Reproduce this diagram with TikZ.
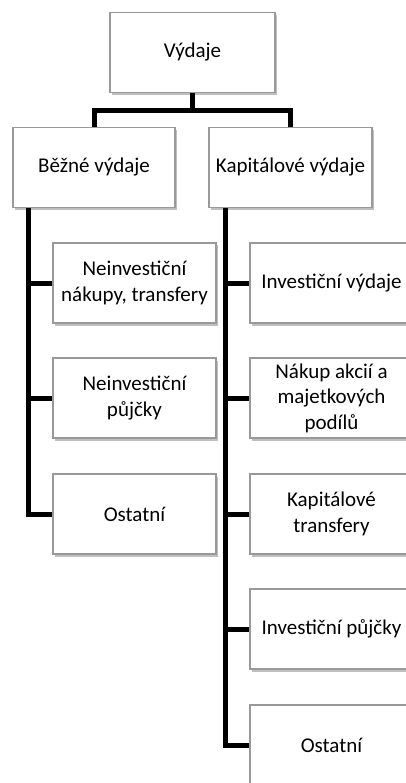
\documentclass[tikz,border=0pt]{standalone}
\usepackage{fontspec}
\setmainfont{Carlito}
\usetikzlibrary{shadows}

\begin{document}
\begin{tikzpicture}[box/.style = {rectangle, draw = black!40, line width = 1.1pt, fill = white, minimum width = 163pt, minimum height = 80pt, align = center, font = \fontsize{21}{25.5}\selectfont, drop shadow = {shadow xshift = 1.5pt, shadow yshift = -2.5pt, fill = black, opacity = 0.25}}, conn/.style = {line width = 5pt}]

\useasboundingbox (0,0) rectangle (406pt,-783pt);

\node (vydaje) [box, minimum width = 165pt, xshift = 192.5pt, yshift = -52.5pt] {Výdaje};
\node (bezne) [box, minimum width = 162pt, xshift = 94pt, yshift = -167.5pt] {Běžné výdaje};
\node (kapital) [box, xshift = 290.5pt, yshift = -167.5pt] {Kapitálové výdaje};

\node (nb1) [box, xshift = 134.5pt, yshift = -283pt] {Neinvestiční\\nákupy, transfery};
\node (nb2) [box, xshift = 134.5pt, yshift = -398pt] {Neinvestiční\\půjčky};
\node (nb3) [box, xshift = 134.5pt, yshift = -514pt] {Ostatní};

\node (nk1) [box, xshift = 331.5pt, yshift = -283pt] {Investiční výdaje};
\node (nk2) [box, xshift = 331.5pt, yshift = -398pt] {Nákup akcií a\\majetkových\\podílů};
\node (nk3) [box, xshift = 331.5pt, yshift = -514pt] {Kapitálové\\transfery};
\node (nk4) [box, xshift = 331.5pt, yshift = -629pt] {Investiční půjčky};
\node (nk5) [box, xshift = 331.5pt, yshift = -745pt] {Ostatní};

\draw [conn] (vydaje.south) -- ++(0pt,-17pt) -| (bezne.north);
\draw [conn] (vydaje.south) -- ++(0pt,-17pt) -| (kapital.north);

\draw [conn] ([xshift = 16.5pt]bezne.south west) |- (nb1.west);
\draw [conn] ([xshift = 16.5pt]bezne.south west) |- (nb2.west);
\draw [conn] ([xshift = 16.5pt]bezne.south west) |- (nb3.west);

\draw [conn] ([xshift = 17pt]kapital.south west) |- (nk1.west);
\draw [conn] ([xshift = 17pt]kapital.south west) |- (nk2.west);
\draw [conn] ([xshift = 17pt]kapital.south west) |- (nk3.west);
\draw [conn] ([xshift = 17pt]kapital.south west) |- (nk4.west);
\draw [conn] ([xshift = 17pt]kapital.south west) |- (nk5.west);

\end{tikzpicture}
\end{document}
